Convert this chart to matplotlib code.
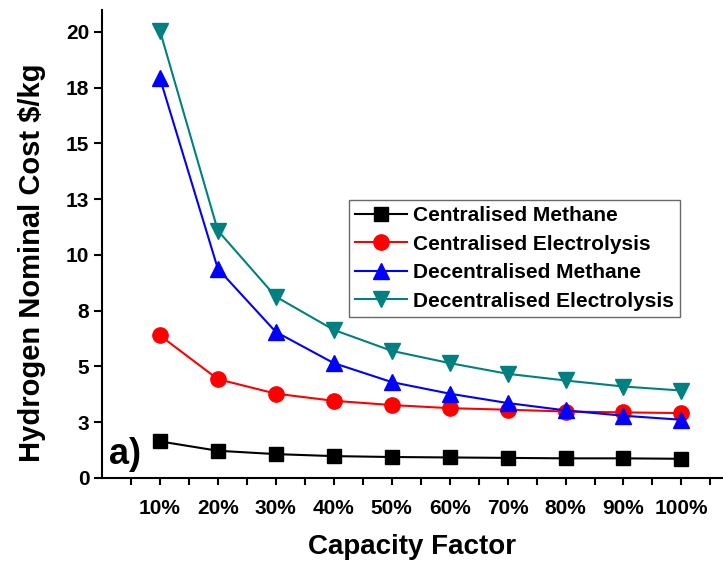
import matplotlib.pyplot as plt
import numpy as np

plt.rcParams['font.family'] = ['Liberation Sans', 'DejaVu Sans']
plt.rcParams['font.weight'] = 'bold'

capacity = [10, 20, 30, 40, 50, 60, 70, 80, 90, 100]
cap_labels = ['10%', '20%', '30%', '40%', '50%', '60%', '70%', '80%', '90%', '100%']

cent_methane = [1.64, 1.22, 1.07, 0.98, 0.94, 0.92, 0.90, 0.88, 0.88, 0.86]
cent_electro = [6.39, 4.43, 3.78, 3.46, 3.27, 3.13, 3.06, 2.98, 2.94, 2.91]
dec_methane = [17.93, 9.38, 6.55, 5.15, 4.30, 3.78, 3.36, 3.03, 2.79, 2.61]
dec_electro = [20.06, 11.09, 8.13, 6.64, 5.70, 5.15, 4.67, 4.37, 4.10, 3.92]

y_ticks = [0, 2.5, 5, 7.5, 10, 12.5, 15, 17.5, 20]
y_labels = ['0', '3', '5', '8', '10', '13', '15', '18', '20']

fig = plt.figure(figsize=(7.23, 5.68), dpi=100)
ax = fig.add_axes([0.141, 0.1585, 0.8576, 0.8235])

ax.plot(capacity, cent_methane, color='black', marker='s', ms=10, lw=1.5, label='Centralised Methane')
ax.plot(capacity, cent_electro, color='#ff0000', marker='o', ms=11, lw=1.5, label='Centralised Electrolysis')
ax.plot(capacity, dec_methane, color='#0000ff', marker='^', ms=11, lw=1.5, label='Decentralised Methane')
ax.plot(capacity, dec_electro, color='#008080', marker='v', ms=11, lw=1.5, label='Decentralised Electrolysis')

ax.set_xlim(0, 107)
ax.set_ylim(0, 20.97)
ax.set_xticks(capacity)
ax.set_xticklabels(cap_labels)
ax.set_xticks(np.arange(5, 106, 10), minor=True)
ax.set_yticks(y_ticks)
ax.set_yticklabels(y_labels)

for s in ['top', 'right']:
    ax.spines[s].set_visible(False)
for s in ['left', 'bottom']:
    ax.spines[s].set_linewidth(1.5)

ax.tick_params(axis='x', which='both', direction='out', length=5, width=1.5, labelsize=15, pad=10)
ax.tick_params(axis='y', direction='out', length=6, width=1.5, labelsize=15, pad=3)

ax.set_xlabel('Capacity Factor', fontsize=20, fontweight='bold', labelpad=12)
ax.set_ylabel('Hydrogen Nominal Cost $/kg', fontsize=21, fontweight='bold')
ax.yaxis.set_label_coords(-0.090, 0.461)

ax.text(0.012, 0.012, 'a)', transform=ax.transAxes, fontsize=26, fontweight='bold', ha='left', va='bottom')

leg = ax.legend(loc='upper left', bbox_to_anchor=(0.398, 0.594), fontsize=15, frameon=True, fancybox=False,
                handlelength=2.5, labelspacing=0.45, borderpad=0.3, handletextpad=0.3, borderaxespad=0)
leg.get_frame().set_edgecolor('#444444')
leg.get_frame().set_linewidth(1.0)

fig.savefig('out.png', dpi=100)
